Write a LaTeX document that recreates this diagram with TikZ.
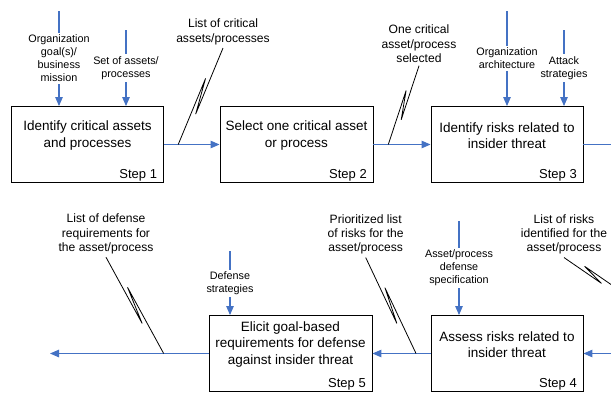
\documentclass[tikz,border=0pt]{standalone}
\usepackage{fontspec}
\setmainfont{Liberation Sans}
\usetikzlibrary{arrows.meta,calc}
\definecolor{flowblue}{HTML}{4472C4}
\begin{document}
\begin{tikzpicture}[x=1pt,y=-1pt,
  box/.style={draw=black, line width=0.9pt, minimum height=76pt, inner sep=0pt, fill=white},
  boxtext/.style={align=center, font=\fontsize{13.5}{16.2}\selectfont, inner sep=0pt},
  steplbl/.style={anchor=base east, font=\fontsize{13}{15}\selectfont, inner sep=0pt},
  flow/.style={draw=flowblue, line width=1.1pt, -{Triangle[length=9pt,width=7.5pt]}},
  inlbl/.style={fill=white, align=center, font=\fontsize{10.8}{13}\selectfont, inner sep=2pt},
  ldrlbl/.style={align=center, font=\fontsize{12.1}{14.4}\selectfont, inner sep=3pt},
  leader/.style={draw=black, line width=0.8pt, line join=round},
  zigR/.style={to path={-- ($(\tikztostart)!0.67!(\tikztotarget)!3pt!90:(\tikztotarget)$) -- ($(\tikztostart)!0.33!(\tikztotarget)!3pt!-90:(\tikztotarget)$) -- (\tikztotarget)}},
  zigL/.style={to path={-- ($(\tikztostart)!0.67!(\tikztotarget)!3pt!-90:(\tikztotarget)$) -- ($(\tikztostart)!0.33!(\tikztotarget)!3pt!90:(\tikztotarget)$) -- (\tikztotarget)}},
]
\useasboundingbox (0,0) rectangle (611,392);
\fill[white] (0,0) rectangle (611,392);
\clip (0,0) rectangle (611,392);

% boxes
\node[box, minimum width=151.5pt] (s1) at (87.5,144.5) {};
\node[box, minimum width=153pt] (s2) at (296.5,144.5) {};
\node[box, minimum width=152pt] (s3) at (507,144.5) {};
\node[box, minimum width=152pt] (s4) at (507,353.5) {};
\node[box, minimum width=163pt] (s5) at (290.5,353.5) {};

\node[boxtext] (s1t) at ([yshift=9pt]s1.center) {Identify critical assets\\and processes};
\node[boxtext] (s2t) at ([yshift=9pt]s2.center) {Select one critical asset\\or process};
\node[boxtext] (s3t) at ([yshift=9pt]s3.center) {Identify risks related to\\insider threat};
\node[boxtext] (s4t) at ([yshift=9pt]s4.center) {Assess risks related to\\insider threat};
\node[boxtext] (s5t) at ([yshift=9pt]s5.center) {Elicit goal-based\\requirements for defense\\against insider threat};

\node[steplbl] (s1n) at ([xshift=-6.5pt,yshift=4pt]s1.south east) {Step 1};
\node[steplbl] (s2n) at ([xshift=-6.5pt,yshift=4pt]s2.south east) {Step 2};
\node[steplbl] (s3n) at ([xshift=-6.5pt,yshift=4pt]s3.south east) {Step 3};
\node[steplbl] (s4n) at ([xshift=-6.5pt,yshift=4pt]s4.south east) {Step 4};
\node[steplbl] (s5n) at ([xshift=-6.5pt,yshift=4pt]s5.south east) {Step 5};

% main flows
\coordinate (xr) at (622,0);
\coordinate (o5) at (50,353.5);
\draw[flow] (s1.east) -- coordinate[pos=0.26] (j12) (s2.west);
\draw[flow] (s2.east) -- coordinate[pos=0.26] (j23) (s3.west);
\draw[flow] (s3.east) -- (s3.east -| xr) -- coordinate[pos=0.706] (j34) (s4.east -| xr) -- (s4.east);
\draw[flow] (s4.west) -- coordinate[pos=0.25] (j45) (s5.east);
\draw[flow] (s5.west) -- coordinate[pos=0.283] (j5o) (o5);

% inputs
\coordinate (i1) at (59,11);
\coordinate (i2) at (126,30);
\coordinate (i3) at (507,11);
\coordinate (i4) at (564,30);
\coordinate (i5) at (230,251);
\coordinate (i6) at (459,221);
\draw[flow] (i1) -- node[inlbl] (i1l) {Organization\\goal(s)/\\business\\mission} (i1 |- s1.north);
\draw[flow] (i2) -- node[inlbl] (i2l) {Set of assets/\\processes} (i2 |- s1.north);
\draw[flow] (i3) -- node[inlbl] (i3l) {Organization\\architecture} (i3 |- s3.north);
\draw[flow] (i4) -- node[inlbl] (i4l) {Attack\\strategies} (i4 |- s3.north);
\draw[flow] (i5) -- node[inlbl] (i5l) {Defense\\strategies} (i5 |- s5.north);
\draw[flow] (i6) -- node[inlbl] (i6l) {Asset/process\\defense\\specification} (i6 |- s4.north);

% leader labels
\node[ldrlbl] (l1) at (223,32) {List of critical\\assets/processes};
\node[ldrlbl] (l2) at (419,43.7) {One critical\\asset/process\\selected};
\node[ldrlbl] (l3) at (106,234) {List of defense\\requirements for\\the asset/process};
\node[ldrlbl] (l4) at (365.7,234.3) {Prioritized list\\of risks for the\\asset/process};
\node[ldrlbl] (l5) at (564,234.3) {List of risks\\identified for the\\asset/process};

\draw[leader] (l1.south) to[zigR] (j12);
\draw[leader] (l2.south) to[zigR] (j23);
\draw[leader] (l3.south) to[zigL] (j5o);
\draw[leader] (l4.south) to[zigL] (j45);
\draw[leader] (l5.south) to[zigL] (j34);
\end{tikzpicture}
\end{document}
